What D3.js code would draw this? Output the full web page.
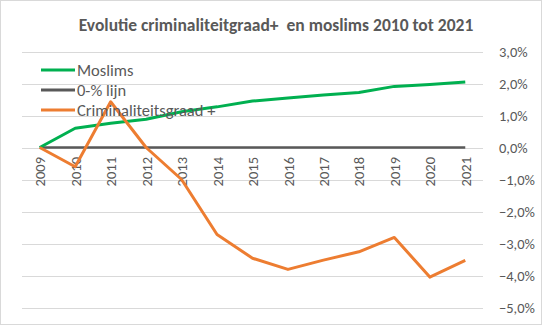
<!DOCTYPE html>
<html><head><meta charset="utf-8">
<script src="https://cdn.jsdelivr.net/npm/d3@7"></script>
<style>body{margin:0;background:#fff}svg{display:block}text{font-family:"Carlito","Liberation Sans",Arial,sans-serif;white-space:pre}</style>
</head><body>
<script>
const years = ["2009","2010","2011","2012","2013","2014","2015","2016","2017","2018","2019","2020","2021"];
const moslims = [0, 0.60, 0.76, 0.88, 1.12, 1.27, 1.45, 1.55, 1.64, 1.72, 1.91, 1.97, 2.05];
const nulLijn = [0,0,0,0,0,0,0,0,0,0,0,0,0];
const crim = [0, -0.60, 1.43, 0.0, -1.0, -2.72, -3.46, -3.81, -3.52, -3.26, -2.81, -4.05, -3.53];
const yTicks = [3,2,1,0,-1,-2,-3,-4,-5];
const title = "Evolutie criminaliteitgraad+  en moslims 2010 tot 2021";
const seriesNames = ["Moslims","0-% lijn","Criminaliteitsgraad +"];
const colors = ["#00b050","#595959","#ed7d31"];

const W=542,H=325;
const svg=d3.select("body").append("svg").attr("width",W).attr("height",H);
svg.append("rect").attr("x",0.5).attr("y",0.5).attr("width",W-1).attr("height",H-1).attr("fill","#fff").attr("stroke","#d9d9d9");

const x=d3.scalePoint().domain(years).range([22,483]).padding(0.5);
const y=d3.scaleLinear().domain([-5,3]).range([307.5,51.5]);

svg.append("text").attr("x",276).attr("y",30.5).attr("text-anchor","middle")
  .attr("font-size","17.5px").attr("font-weight","bold").attr("fill","#595959").text(title);

// gridlines
svg.append("g").selectAll("line").data(yTicks).join("line")
  .attr("x1",22).attr("x2",483).attr("y1",d=>Math.round(y(d))+0.5).attr("y2",d=>Math.round(y(d))+0.5)
  .attr("stroke","#d9d9d9").attr("stroke-width",1);

// y axis on right
const fmt=d=>d3.format(".1f")(d).replace(".",",")+"%";
const yAxis=d3.axisRight(y).tickValues(yTicks).tickFormat(fmt).tickSize(0).tickPadding(0);
const gy=svg.append("g").attr("transform","translate(499,0)").call(yAxis);
gy.select(".domain").remove();
gy.selectAll("text").attr("font-size","14.5px").attr("fill","#595959").attr("dy","0.35em");

// x axis labels
const xAxis=d3.axisBottom(x).tickSize(0).tickPadding(0);
const gx=svg.append("g").attr("transform","translate(0,157)").call(xAxis);
gx.select(".domain").remove();
gx.selectAll("text").attr("font-size","14.5px").attr("fill","#595959")
  .attr("transform","rotate(-90)").attr("text-anchor","end").attr("x",0).attr("y",0).attr("dy","0.35em");

const line=d3.line().x((d,i)=>x(years[i])).y(d=>y(d));
const data=[moslims,nulLijn,crim];
const order=[1,0,2];
order.forEach(k=>{
  svg.append("path").datum(data[k]).attr("d",line).attr("fill","none")
    .attr("stroke",colors[k]).attr("stroke-width",k===1?2.5:3).attr("stroke-linejoin","round");
});

// legend
const lg=svg.append("g");
seriesNames.forEach((n,i)=>{
  const cy=70+i*20;
  lg.append("line").attr("x1",41).attr("x2",75).attr("y1",cy).attr("y2",cy)
    .attr("stroke",colors[i]).attr("stroke-width",3);
  lg.append("text").attr("x",77).attr("y",cy).attr("dy","0.35em")
    .attr("font-size","16.5px").attr("fill","#595959").text(n);
});
</script>
</body></html>
